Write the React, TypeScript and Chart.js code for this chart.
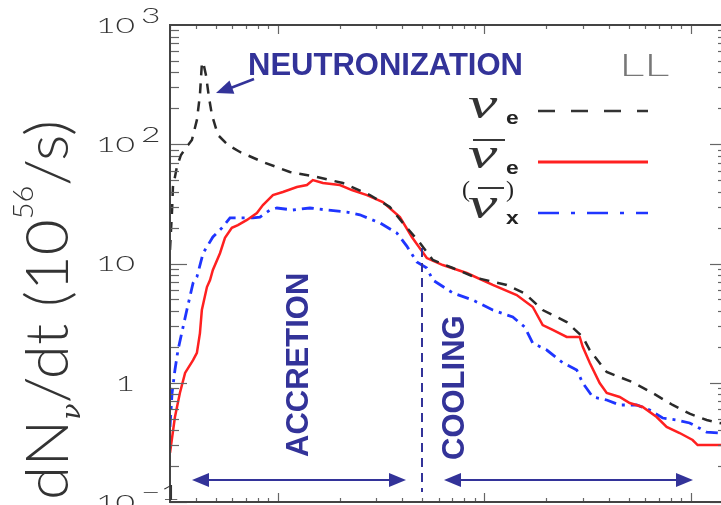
import React, { useEffect, useRef } from 'react';
import { Chart, registerables } from 'chart.js';

Chart.register(...registerables);

// ---- Data (time in s, rate in 10^56 / s) ----
const timeNuE = [0.030, 0.0307, 0.031, 0.0324, 0.0339, 0.0358, 0.0383, 0.0405, 0.0419, 0.0428, 0.0434, 0.0448, 0.0463, 0.0479, 0.0512, 0.0573, 0.0655, 0.0846, 0.1143, 0.1545, 0.2064, 0.279, 0.3487, 0.403, 0.4871, 0.5629, 0.7039, 0.9198, 1.285, 1.571, 1.919, 2.509, 3.0, 3.243, 3.92, 5.236, 6.546, 8.18, 9.886, 11.95, 13.8, 15];
const rateNuE = [13.0, 28.1, 43.8, 64.4, 81.3, 93, 108.5, 160, 259, 471, 490, 381, 249, 176, 119.6, 98.6, 86.1, 71, 58.5, 53.1, 47.3, 37.5, 29.8, 21.9, 14.9, 10.7, 9.17, 7.56, 6.61, 5.6, 4.07, 3.23, 2.42, 1.88, 1.23, 1.01, 0.82, 0.651, 0.55, 0.487, 0.46, 0.45];

const timeNuEBar = [0.03, 0.0317, 0.0335, 0.0355, 0.0388, 0.0405, 0.0419, 0.0428, 0.0453, 0.0469, 0.0484, 0.0524, 0.0554, 0.0598, 0.064, 0.0708, 0.0791, 0.0846, 0.0946, 0.1057, 0.1236, 0.1382, 0.1477, 0.1652, 0.1996, 0.2283, 0.27, 0.3225, 0.39, 0.4457, 0.5266, 0.6295, 0.8222, 1.099, 1.436, 1.718, 1.919, 2.146, 2.509, 2.90, 3.0, 3.243, 3.623, 3.92, 4.53, 5.066, 5.856, 6.845, 7.65, 8.845, 10.22, 10.81, 15];
const rateNuEBar = [0.258, 0.516, 0.82, 1.21, 1.55, 1.78, 2.61, 4.07, 6.35, 7.27, 8.82, 12.2, 16.4, 19.9, 21.0, 23.2, 26.5, 30.9, 37.5, 39.8, 43.8, 45.5, 50.1, 47.3, 45.5, 41.3, 37.5, 32.8, 24.5, 16.7, 11.1, 9.71, 8.32, 6.61, 5.44, 4.32, 3.05, 2.77, 2.42, 2.42, 2.0, 1.47, 0.995, 0.82, 0.76, 0.676, 0.626, 0.516, 0.426, 0.379, 0.331, 0.30, 0.30];

const timeNuX = [0.03, 0.0307, 0.0317, 0.0328, 0.0347, 0.0362, 0.0388, 0.0405, 0.0434, 0.0484, 0.0536, 0.0586, 0.0655, 0.0757, 0.0818, 0.0915, 0.0989, 0.1182, 0.1429, 0.1726, 0.2158, 0.2495, 0.312, 0.377, 0.4213, 0.471, 0.5266, 0.5629, 0.7039, 0.8797, 1.099, 1.374, 1.571, 1.718, 2.008, 2.40, 2.805, 3.0, 3.353, 3.92, 4.53, 5.476, 6.332, 7.317, 8.55, 9.886, 11.95, 13.8, 15];
const rateNuX = [0.426, 0.82, 1.28, 1.88, 2.93, 4.07, 6.86, 7.71, 12.2, 16.7, 19.9, 24.1, 24.1, 24.1, 24.5, 28.1, 29.2, 28.1, 29.2, 28.1, 27.0, 25.6, 21.9, 18.0, 14.0, 10.3, 9.17, 7.27, 5.66, 4.94, 4.07, 3.56, 2.93, 2.15, 1.88, 1.47, 1.28, 0.995, 0.76, 0.717, 0.651, 0.651, 0.591, 0.506, 0.487, 0.46, 0.386, 0.379, 0.375];

// ---- Axes / labels ----
const xMin = 0.03;
const xMax = 15;
const yMin = 0.1;
const yMax = 1000;
const yTickValues = [0.1, 1, 10, 100, 1000];
const yTickBases = ['10', '1', '10', '10', '10'];
const yTickExps = ['\u22121', '', '', '2', '3'];
const legendSubs = ['e', 'e', 'x'];
const modelLabel = 'LL';
const phaseLabels = ['NEUTRONIZATION', 'ACCRETION', 'COOLING'];

const LIGHT = '"Lato", "Liberation Sans", sans-serif';
const BOLD = '"Liberation Sans", Arial, sans-serif';
const NAVY = '#333399';

function zip(xs: number[], ys: number[]) {
  const n = Math.min(xs.length, ys.length);
  const out: { x: number; y: number }[] = [];
  for (let i = 0; i < n; i++) out.push({ x: xs[i], y: ys[i] });
  return out;
}

function stretched(ctx: CanvasRenderingContext2D, text: string, x: number, y: number, sx: number) {
  ctx.save();
  ctx.translate(x, y);
  ctx.scale(sx, 1);
  ctx.textAlign = 'left';
  ctx.fillText(text, 0, 0);
  ctx.restore();
}

function seg(ctx: CanvasRenderingContext2D, x1: number, y1: number, x2: number, y2: number) {
  ctx.beginPath();
  ctx.moveTo(x1, y1);
  ctx.lineTo(x2, y2);
  ctx.stroke();
}

function arrowHead(ctx: CanvasRenderingContext2D, fx: number, fy: number, tx: number, ty: number, len: number, half: number) {
  const ang = Math.atan2(ty - fy, tx - fx);
  const bx = tx - len * Math.cos(ang);
  const by = ty - len * Math.sin(ang);
  ctx.beginPath();
  ctx.moveTo(tx, ty);
  ctx.lineTo(bx + half * Math.sin(ang), by - half * Math.cos(ang));
  ctx.lineTo(bx - half * Math.sin(ang), by + half * Math.cos(ang));
  ctx.closePath();
  ctx.fill();
}

const overlay = {
  id: 'overlay',
  afterDraw(chart: any) {
    const { ctx, chartArea: a, scales } = chart;
    const xs = scales.x;
    const ys = scales.y;
    ctx.save();

    // inner ticks
    ctx.strokeStyle = '#666';
    ctx.lineWidth = 1.2;
    for (let d = -1; d <= 2; d++) {
      for (let m = 1; m <= 9; m++) {
        const v = m * Math.pow(10, d);
        const py = Math.round(ys.getPixelForValue(v)) + 0.5;
        const len = m === 1 ? 17 : 9;
        seg(ctx, a.left, py, a.left + len, py);
        seg(ctx, a.right, py, a.right - len, py);
      }
    }
    for (let d = -2; d <= 1; d++) {
      for (let m = 1; m <= 9; m++) {
        const v = m * Math.pow(10, d);
        if (v < xMin || v > xMax) continue;
        const px = Math.round(xs.getPixelForValue(v)) + 0.5;
        const len = m === 1 ? 9 : 4;
        seg(ctx, px, a.bottom, px, a.bottom - len);
        seg(ctx, px, a.top, px, a.top + len);
      }
    }
    // frame
    ctx.strokeStyle = '#444';
    ctx.lineWidth = 2;
    ctx.strokeRect(a.left, a.top, a.right - a.left, a.bottom - a.top);

    // y tick labels
    ctx.fillStyle = '#333';
    ctx.textBaseline = 'middle';
    ctx.font = `300 21px ${LIGHT}`;
    const SX = 1.6;
    yTickValues.forEach((v, i) => {
      const py = ys.getPixelForValue(v);
      const base = yTickBases[i];
      const exp = yTickExps[i];
      const bw = ctx.measureText(base).width * SX;
      const right = a.left - 35;
      stretched(ctx, base, right - bw, py + 1, SX);
      if (exp) stretched(ctx, exp, right + 6, py - 9, SX);
    });

    // y axis title (rotated)
    ctx.save();
    ctx.translate(68, 500);
    ctx.rotate(-Math.PI / 2);
    ctx.textBaseline = 'alphabetic';
    ctx.textAlign = 'left';
    const F = 60;
    const parts = [
      { t: 'dN', f: `300 ${F}px ${LIGHT}`, dy: 0 },
      { t: '\u03bd', f: `italic 26px "DejaVu Serif", serif`, dy: 12 },
      { t: '/dt (10', f: `300 ${F}px ${LIGHT}`, dy: 0 },
      { t: '56', f: `300 28px ${LIGHT}`, dy: -35 },
      { t: '/s)', f: `300 ${F}px ${LIGHT}`, dy: 0 },
    ];
    let total = 0;
    const widths = parts.map((p) => {
      ctx.font = p.f;
      const w = ctx.measureText(p.t).width;
      total += w;
      return w;
    });
    ctx.scale(380 / total, 1);
    let cx = 0;
    ctx.fillStyle = '#333';
    parts.forEach((p, i) => {
      ctx.font = p.f;
      ctx.fillText(p.t, cx, p.dy);
      cx += widths[i];
    });
    ctx.restore();

    // model label
    ctx.fillStyle = '#777';
    ctx.textBaseline = 'alphabetic';
    ctx.font = `300 32px ${LIGHT}`;
    stretched(ctx, modelLabel, 619, 76, 1.55);

    // legend
    const legendY = [111, 162, 213];
    const nuBase = [118, 168, 218];
    ctx.lineCap = 'butt';
    ctx.strokeStyle = '#333';
    ctx.lineWidth = 2.5;
    ctx.setLineDash([17, 16]);
    seg(ctx, 538, legendY[0], 648, legendY[0]);
    ctx.strokeStyle = '#ff2020';
    ctx.lineWidth = 3;
    ctx.setLineDash([]);
    seg(ctx, 538, legendY[1], 648, legendY[1]);
    ctx.strokeStyle = '#1f35ff';
    ctx.lineWidth = 2.5;
    ctx.setLineDash([21, 12, 4, 12]);
    seg(ctx, 538, legendY[2], 648, legendY[2]);
    ctx.setLineDash([]);

    for (let i = 0; i < 3; i++) {
      ctx.fillStyle = '#333';
      ctx.font = `italic 44px "Liberation Serif", "Times New Roman", serif`;
      const w = ctx.measureText('\u03bd').width;
      stretched(ctx, '\u03bd', 468, nuBase[i], Math.min(1.5, 35 / w));
      ctx.fillStyle = '#222';
      ctx.font = `bold 19px ${BOLD}`;
      stretched(ctx, legendSubs[i], 506, nuBase[i] + 6, 1.2);
    }
    ctx.strokeStyle = '#222';
    ctx.lineWidth = 1.8;
    seg(ctx, 473, 140, 505, 140);
    seg(ctx, 478, 188, 504, 188);
    ctx.fillStyle = '#222';
    ctx.font = `24px "Liberation Serif", serif`;
    ctx.fillText('(', 462, 197);
    ctx.fillText(')', 506, 197);

    // annotations
    ctx.fillStyle = NAVY;
    ctx.strokeStyle = NAVY;
    ctx.font = `bold 31px ${BOLD}`;
    ctx.textBaseline = 'alphabetic';
    ctx.fillText(phaseLabels[0], 248, 75);
    ctx.lineWidth = 2.5;
    seg(ctx, 254, 79, 228, 89);
    arrowHead(ctx, 254, 79, 216, 93, 17, 7);

    ctx.save();
    ctx.translate(308, 457);
    ctx.rotate(-Math.PI / 2);
    ctx.fillText(phaseLabels[1], 0, 0);
    ctx.restore();
    ctx.save();
    ctx.translate(464, 460);
    ctx.rotate(-Math.PI / 2);
    ctx.fillText(phaseLabels[2], 0, 0);
    ctx.restore();

    ctx.lineWidth = 2;
    seg(ctx, 205, 480, 394, 480);
    arrowHead(ctx, 406, 480, 192, 480, 17, 7);
    arrowHead(ctx, 192, 480, 406, 480, 17, 7);
    seg(ctx, 456, 480, 681, 480);
    arrowHead(ctx, 693, 480, 444, 480, 17, 7);
    arrowHead(ctx, 444, 480, 693, 480, 17, 7);

    ctx.setLineDash([9, 6]);
    ctx.lineWidth = 2;
    seg(ctx, 422, 248, 422, 492);
    ctx.setLineDash([]);

    ctx.restore();
  },
};

export default function App() {
  const ref = useRef<HTMLCanvasElement | null>(null);
  useEffect(() => {
    if (!ref.current) return;
    const chart = new Chart(ref.current, {
      type: 'line',
      data: {
        datasets: [
          {
            label: 'nu_e',
            data: zip(timeNuE, rateNuE),
            borderColor: '#2a2a2a',
            borderWidth: 2.5,
            borderDash: [10, 8],
            pointRadius: 0,
            order: 0,
          },
          {
            label: 'anti nu_e',
            data: zip(timeNuEBar, rateNuEBar),
            borderColor: '#ff2020',
            borderWidth: 2.5,
            pointRadius: 0,
            order: 1,
          },
          {
            label: 'nu_x',
            data: zip(timeNuX, rateNuX),
            borderColor: '#1f35ff',
            borderWidth: 2.8,
            borderDash: [12, 6, 3, 6],
            pointRadius: 0,
            order: 2,
          },
        ],
      },
      options: {
        responsive: false,
        animation: false,
        devicePixelRatio: 1,
        layout: { padding: { left: 170, top: 25, right: 13, bottom: 3 } },
        plugins: {
          legend: { display: false },
          tooltip: { enabled: false },
          title: { display: false },
        },
        elements: { line: { tension: 0 }, point: { radius: 0 } },
        scales: {
          x: { type: 'logarithmic', min: xMin, max: xMax, display: false },
          y: { type: 'logarithmic', min: yMin, max: yMax, display: false },
        },
      },
      plugins: [overlay],
    });
    return () => chart.destroy();
  }, []);

  return (
    <div
      style={{
        position: 'fixed',
        left: 0,
        top: 0,
        width: 721,
        height: 505,
        overflow: 'hidden',
        background: '#fff',
      }}
    >
      <canvas ref={ref} width={740} height={505} style={{ display: 'block', width: 740, height: 505 }} />
    </div>
  );
}
